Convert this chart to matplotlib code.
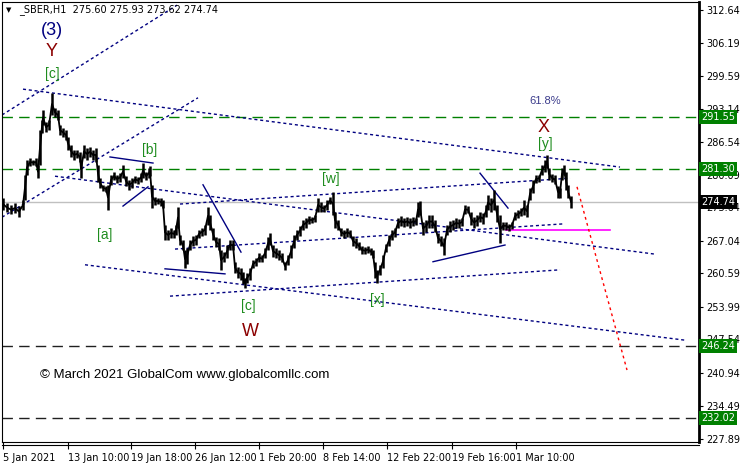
#Gráfico H1 da SBER com contagem de ondas (estilo MetaTrader)

import matplotlib
matplotlib.use('Agg')
import matplotlib.pyplot as plt
import matplotlib.transforms as mtransforms

#------------------------------------------------------------------------------------------#
# Dados (1 barra por pixel no original)
#------------------------------------------------------------------------------------------#

barras = [3, 7, 11, 15, 19, 23, 25, 27, 30, 33, 36, 38, 40, 42, 43, 46, 49, 52, 55, 58,
          60, 63, 66, 68, 71, 74, 77, 80, 81, 84, 87, 90, 93, 96, 98, 100, 103, 106, 108, 111,
          114, 117, 120, 123, 126, 129, 132, 135, 138, 141, 143, 146, 149, 150, 152, 155, 158, 161, 163, 165,
          168, 171, 174, 176, 178, 180, 183, 185, 187, 190, 193, 196, 199, 202, 205, 208, 210, 213, 216, 219,
          221, 224, 227, 230, 233, 235, 238, 241, 243, 245, 247, 250, 253, 256, 259, 262, 265, 268, 270, 273,
          276, 279, 282, 285, 288, 291, 294, 297, 300, 303, 306, 309, 312, 315, 318, 321, 324, 327, 330, 333,
          335, 338, 341, 344, 347, 350, 353, 356, 359, 362, 365, 368, 371, 373, 375, 377, 380, 383, 386, 389,
          392, 395, 398, 401, 404, 407, 410, 413, 416, 418, 420, 423, 426, 429, 432, 435, 438, 441, 444, 447,
          450, 453, 456, 459, 462, 465, 468, 471, 474, 477, 480, 483, 486, 488, 491, 494, 497, 500, 503, 506,
          509, 512, 515, 518, 521, 524, 527, 530, 533, 536, 539, 542, 545, 547, 549, 552, 555, 558, 560, 562,
          564, 566, 568, 571]

maximas = [275.5, 274.5, 274.1, 274.5, 273.9, 275.1, 280.0, 283.0, 283.4, 283.0,
           283.4, 282.0, 288.9, 290.9, 292.9, 290.5, 290.9, 296.2, 293.3, 292.9,
           289.9, 289.3, 288.9, 287.6, 286.0, 285.0, 285.0, 284.6, 283.0, 286.0,
           285.4, 285.6, 285.0, 285.4, 282.0, 279.4, 278.1, 277.9, 278.1, 280.0,
           280.6, 280.0, 280.4, 282.0, 279.8, 279.1, 279.4, 279.8, 279.6, 280.4,
           282.4, 280.6, 281.4, 281.8, 278.1, 275.7, 275.5, 275.5, 275.1, 270.2,
           269.2, 269.6, 269.2, 270.2, 273.7, 268.2, 267.2, 265.2, 265.6, 267.2,
           268.0, 268.2, 269.2, 269.6, 270.2, 273.7, 272.1, 269.6, 267.8, 267.6,
           265.2, 264.8, 266.2, 267.2, 267.2, 262.8, 261.9, 261.7, 260.9, 259.7,
           260.7, 261.7, 263.2, 263.6, 264.6, 264.2, 265.6, 267.8, 268.6, 266.2,
           265.6, 265.2, 264.6, 262.8, 264.2, 266.2, 268.2, 269.2, 270.0, 271.1,
           271.5, 271.9, 271.7, 272.1, 275.5, 274.7, 274.1, 275.1, 275.7, 276.7,
           272.7, 271.1, 269.6, 269.2, 269.6, 269.2, 268.0, 267.6, 266.8, 266.0,
           265.8, 266.0, 265.6, 265.2, 262.8, 261.3, 262.3, 264.2, 266.4, 268.2,
           269.2, 269.6, 271.5, 271.9, 271.5, 271.7, 271.5, 271.7, 271.5, 274.7,
           274.9, 270.8, 271.1, 272.1, 272.1, 271.1, 268.6, 268.0, 267.6, 270.2,
           270.9, 271.1, 271.5, 271.3, 271.5, 274.1, 273.9, 272.7, 271.7, 272.1,
           272.7, 272.5, 274.1, 276.1, 275.5, 277.1, 274.1, 272.1, 270.8, 270.8,
           270.4, 270.8, 272.7, 273.1, 273.5, 275.1, 274.1, 277.5, 279.1, 280.0,
           280.0, 282.0, 283.0, 284.0, 281.4, 280.2, 280.0, 277.9, 277.5, 281.4,
           282.0, 280.6, 278.1, 275.9]

minimas = [273.1, 272.7, 272.3, 272.5, 271.7, 273.1, 275.1, 280.0, 281.8, 282.0,
           281.8, 279.4, 282.0, 288.3, 289.9, 288.5, 288.9, 291.9, 291.5, 290.9,
           287.9, 287.6, 287.0, 285.0, 283.6, 283.0, 283.4, 282.6, 279.4, 283.4,
           283.0, 283.6, 283.0, 282.6, 278.7, 277.5, 276.9, 276.7, 273.1, 278.1,
           279.1, 278.5, 278.7, 279.4, 277.9, 277.1, 277.5, 278.5, 278.3, 278.7,
           279.4, 279.1, 279.4, 279.8, 273.5, 274.1, 274.3, 273.9, 273.5, 267.2,
           267.2, 267.6, 267.6, 268.2, 269.6, 266.2, 265.2, 261.7, 262.4, 265.2,
           266.0, 266.2, 267.6, 268.0, 268.2, 270.2, 269.2, 267.2, 265.8, 265.2,
           261.3, 262.8, 263.6, 265.2, 265.2, 260.7, 259.7, 259.3, 258.5, 257.7,
           258.7, 259.3, 261.7, 262.1, 262.8, 262.8, 263.6, 265.2, 266.2, 263.8,
           263.6, 263.2, 262.8, 261.3, 262.3, 263.6, 265.6, 267.2, 268.0, 269.2,
           269.6, 270.4, 270.6, 270.8, 272.7, 272.7, 272.7, 273.1, 274.3, 272.1,
           269.6, 269.2, 268.0, 267.6, 267.8, 267.8, 266.0, 265.6, 265.2, 264.4,
           264.4, 264.6, 264.2, 263.6, 259.7, 258.7, 260.3, 261.7, 264.8, 266.0,
           267.2, 267.8, 269.6, 270.0, 269.8, 270.0, 269.6, 270.0, 270.2, 271.7,
           272.1, 268.2, 268.8, 269.6, 269.6, 268.8, 266.6, 266.0, 264.2, 268.2,
           268.8, 269.2, 269.6, 269.6, 270.0, 272.3, 272.5, 270.2, 269.6, 270.0,
           270.8, 270.4, 271.7, 273.1, 272.7, 273.1, 270.8, 266.6, 269.2, 269.2,
           269.0, 269.4, 271.1, 271.5, 271.9, 272.1, 271.7, 275.1, 276.5, 278.5,
           278.7, 280.0, 280.6, 281.4, 279.1, 278.7, 278.3, 275.5, 275.5, 279.1,
           280.0, 277.1, 275.5, 273.6]

# Linhas de tendência pontilhadas (barra, preço)
linhas_pontilhadas = [
    [(2, 271.7), (198, 295.3)],
    [(2, 291.9), (177, 313.6)],
    [(23, 297.0), (620, 281.6)],
    [(55, 279.8), (655, 264.4)],
    [(180, 274.3), (570, 279.4)],
    [(85, 262.3), (685, 247.4)],
    [(170, 256.1), (560, 261.3)],
    [(175, 265.4), (565, 270.4)],
]

# Linhas de tendência contínuas
linhas_continuas = [
    [(165, 261.5), (225, 260.5)],
    [(110, 283.6), (153, 282.4)],
    [(123, 273.9), (148, 277.7)],
    [(203, 278.1), (241, 264.8)],
    [(433, 262.9), (505, 266.2)],
    [(480, 280.4), (508, 273.5)],
]

linha_magenta = [(506, 269.2), (610, 269.2)]
linha_vermelha = [(577, 277.7), (627, 241.5)]

niveis_verdes = [291.55, 281.30]
niveis_pretos = [246.24, 232.02]
preco_atual = 274.74

ticks_y = [312.64, 306.19, 299.59, 293.14, 286.54, 280.09, 273.64, 267.04,
           260.59, 253.99, 247.54, 240.94, 234.49, 227.89]

ticks_x = [3, 68, 131, 195, 259, 323, 387, 452, 516]
rotulos_x = ['5 Jan 2021', '13 Jan 10:00', '19 Jan 18:00', '26 Jan 12:00', '1 Feb 20:00',
             '8 Feb 14:00', '12 Feb 22:00', '19 Feb 16:00', '1 Mar 10:00']

# Rótulos das ondas: (texto, barra, preço, cor, tamanho)
ondas = [
    ('(3)', 52, 308.5, '#000080', 13),
    ('Y', 52, 304.4, '#8b0000', 13),
    ('[c]', 52, 300.0, '#1e8c1e', 10),
    ('[a]', 105, 268.2, '#1e8c1e', 10),
    ('[b]', 150, 285.0, '#1e8c1e', 10),
    ('[c]', 248, 254.2, '#1e8c1e', 10),
    ('W', 250, 249.2, '#8b0000', 13),
    ('[w]', 331, 279.2, '#1e8c1e', 10),
    ('[x]', 377, 255.3, '#1e8c1e', 10),
    ('X', 544, 289.5, '#8b0000', 13),
    ('[y]', 545, 286.2, '#1e8c1e', 10),
]

#------------------------------------------------------------------------------------------#
# Plotando
#------------------------------------------------------------------------------------------#

W, H = 740, 466
fig = plt.figure(figsize=(W / 100, H / 100), dpi=100)
ax = fig.add_axes([2 / W, 1 - 442 / H, 697 / W, 440 / H])
ax.set_xlim(2, 699)
ax.set_ylim(227.28, 314.22)

pontilhado = (0, (2.2, 2.0))
tracejado = (0, (7.5, 4.5))

for p in niveis_verdes:
    ax.axhline(p, color='#008000', lw=1, linestyle=tracejado, zorder=1)
for p in niveis_pretos:
    ax.axhline(p, color='#202020', lw=1, linestyle=tracejado, zorder=1)
ax.axhline(preco_atual, color='#c0c0c0', lw=1, zorder=1)

for (x0, y0), (x1, y1) in linhas_pontilhadas:
    ax.plot([x0, x1], [y0, y1], color='#000080', lw=1, linestyle=pontilhado, zorder=2)
for (x0, y0), (x1, y1) in linhas_continuas:
    ax.plot([x0, x1], [y0, y1], color='#000080', lw=1, zorder=2)

ax.plot([linha_magenta[0][0], linha_magenta[1][0]], [linha_magenta[0][1], linha_magenta[1][1]],
        color='#ff00ff', lw=1.2, zorder=2)
ax.plot([linha_vermelha[0][0], linha_vermelha[1][0]], [linha_vermelha[0][1], linha_vermelha[1][1]],
        color='red', lw=1, linestyle=(0, (2, 2.5)), zorder=2)

# barras de preço
meios = [(a + b) / 2 for a, b in zip(maximas, minimas)]
ax.vlines(barras, minimas, maximas, color='black', lw=1.8, zorder=3)
ax.plot(barras, meios, color='black', lw=1.3, zorder=3)

for texto, x, y, cor, tam in ondas:
    ax.text(x, y, texto, color=cor, fontsize=tam, ha='center', va='center',
            family='Liberation Sans', zorder=4)
ax.text(545, 294.7, '61.8%', color='#3c3c8c', fontsize=8, ha='center', va='center',
        family='Liberation Sans', zorder=4)
ax.text(40, 240.5, '\u00a9 March 2021 GlobalCom www.globalcomllc.com', color='black',
        fontsize=9.5, ha='left', va='center', family='Liberation Sans', zorder=4)

# eixo Y à direita
ax.yaxis.tick_right()
ax.set_yticks(ticks_y)
ax.set_yticklabels(['%.2f' % t for t in ticks_y])
ax.tick_params(axis='y', direction='out', length=3, width=0.8, pad=2, labelsize=7)
ax.set_xticks(ticks_x)
ax.set_xticklabels(rotulos_x, ha='left')
ax.tick_params(axis='x', direction='out', length=5, width=0.8, pad=3, labelsize=7)
for lab in ax.get_xticklabels():
    lab.set_horizontalalignment('left')

for lado in ['left', 'top', 'bottom']:
    ax.spines[lado].set_linewidth(0.8)
ax.spines['right'].set_linewidth(2)

# segunda linha inferior (estilo MetaTrader)
fig.add_artist(plt.Line2D([2 / W, 699 / W], [1 - 445 / H, 1 - 445 / H], color='black', lw=0.8))

# caixas de preço à direita
trans = mtransforms.blended_transform_factory(ax.transAxes, ax.transData)
for p in niveis_verdes + niveis_pretos:
    ax.text(1.003, p, '%.2f' % p, transform=trans, color='white', fontsize=7, ha='left',
            va='center', clip_on=False, zorder=6,
            bbox=dict(boxstyle='square,pad=0.2', fc='#008000', ec='none'))
ax.text(1.003, preco_atual, '%.2f' % preco_atual, transform=trans, color='white', fontsize=7,
        ha='left', va='center', clip_on=False, zorder=6,
        bbox=dict(boxstyle='square,pad=0.2', fc='black', ec='none'))

# cabeçalho
fig.text(6 / W, 1 - 10 / H, '\u25bc', fontsize=5, va='center', ha='left')
fig.text(19 / W, 1 - 10 / H, '_SBER,H1  275.60 275.93 273.62 274.74', fontsize=7,
         va='center', ha='left')

fig.savefig('out.png', dpi=100)
